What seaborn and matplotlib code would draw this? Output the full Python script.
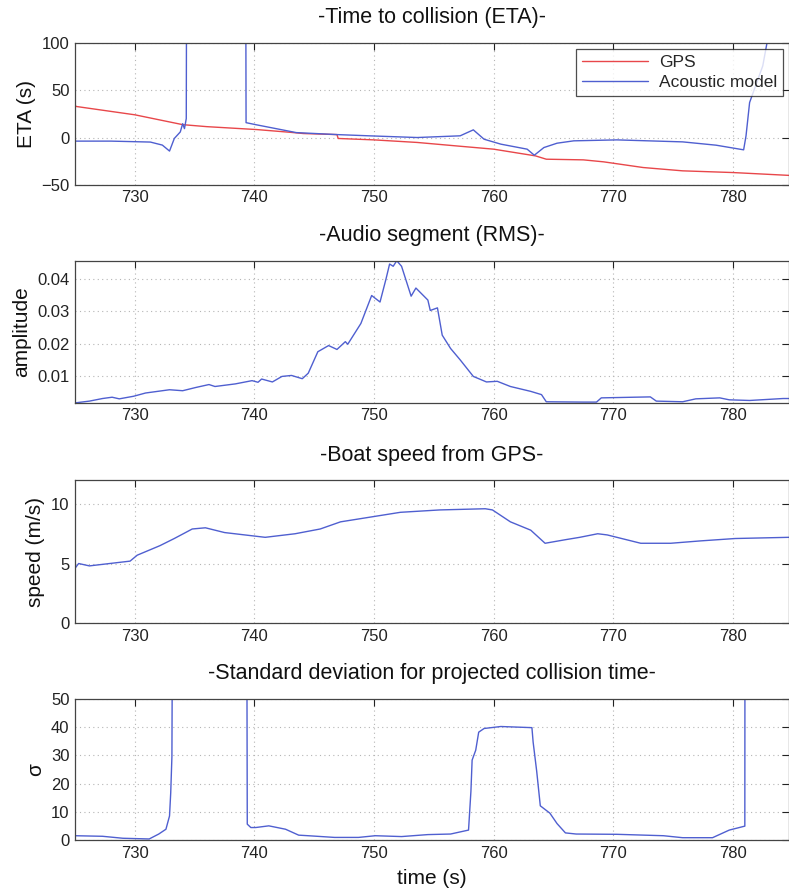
import numpy as np
import matplotlib
matplotlib.use("Agg")
import matplotlib.pyplot as plt
import seaborn as sns

# --- data (time in s) ---
eta_gps_t = [725.0, 725.1, 730.0, 734.0, 736.0, 740.2, 743.0, 744.1, 746.9, 747.0,
             750.0, 753.6, 757.0, 760.0, 763.5, 764.4, 767.5, 769.2, 772.5, 775.8,
             780.0, 784.7]
eta_gps = [34.0, 32.8, 24.0, 13.6, 11.5, 8.4, 5.5, 4.2, 3.1, -1.0,
           -2.5, -5.2, -9.0, -12.3, -19.4, -22.9, -23.6, -25.7, -31.7, -35.2,
           -37.0, -40.0]

eta_ac_t = [725.0, 728.0, 731.3, 732.3, 732.9, 733.3, 733.8, 734.0, 734.15, 734.3,
            734.35, 739.25, 739.3, 740.1, 741.8, 743.5, 746.9, 749.8, 753.6, 757.2,
            758.3, 759.2, 760.6, 762.8, 763.4, 764.2, 765.3, 766.7, 770.3, 775.8,
            778.6, 780.9, 781.1, 781.4, 782.5, 783.0, 784.7]
eta_ac = [-3.8, -3.8, -4.8, -8.0, -14.3, -1.0, 5.9, 14.6, 9.4, 20.0,
          300.0, 300.0, 15.7, 13.6, 9.4, 5.2, 3.1, 1.7, 0.0, 1.8,
          8.1, -1.8, -7.0, -12.3, -18.7, -10.6, -6.0, -3.5, -2.5, -4.6,
          -8.1, -13.0, 1.8, 37.0, 75.7, 110.0, 300.0]

rms_t = [725.0, 725.1, 726.2, 727.3, 728.1, 728.7, 729.9, 730.9, 732.9, 734.0,
         735.1, 736.2, 736.7, 738.4, 739.8, 740.3, 740.6, 741.5, 742.3, 743.1,
         744.0, 744.5, 745.3, 746.2, 746.9, 747.6, 747.8, 748.9, 749.8, 750.5,
         751.0, 751.3, 751.6, 751.9, 752.3, 753.1, 753.5, 754.5, 754.7, 755.3,
         755.7, 756.4, 757.2, 758.3, 759.4, 760.3, 761.4, 763.1, 764.0, 764.4,
         767.5, 768.6, 769.0, 771.7, 773.1, 773.6, 775.8, 776.9, 778.9, 779.7,
         781.4, 784.2, 784.7]
rms = [0.0019, 0.0019, 0.0024, 0.0032, 0.0036, 0.0031, 0.0039, 0.0049, 0.0059, 0.0056,
       0.0066, 0.0075, 0.0069, 0.0077, 0.0087, 0.0082, 0.0092, 0.0083, 0.0100, 0.0103,
       0.0093, 0.0110, 0.0176, 0.0195, 0.0183, 0.0207, 0.0199, 0.0263, 0.0349, 0.0329,
       0.0400, 0.0446, 0.0439, 0.0456, 0.0439, 0.0347, 0.0372, 0.0335, 0.0303, 0.0311,
       0.0227, 0.0186, 0.0151, 0.0100, 0.0083, 0.0085, 0.0069, 0.0054, 0.0044, 0.0022,
       0.0021, 0.0021, 0.0034, 0.0036, 0.0037, 0.0024, 0.0022, 0.0031, 0.0034, 0.0028,
       0.0026, 0.0032, 0.0032]

speed_t = [725.0, 725.3, 726.2, 727.9, 729.6, 730.2, 732.1, 733.3, 734.8, 735.9,
           737.5, 740.9, 743.4, 745.5, 747.2, 749.7, 752.2, 755.5, 759.3, 759.9,
           761.4, 763.1, 764.3, 766.0, 767.2, 768.7, 769.5, 772.3, 774.8, 777.3,
           780.2, 784.7]
speed = [4.6, 5.0, 4.8, 5.0, 5.2, 5.7, 6.5, 7.1, 7.9, 8.0,
         7.6, 7.2, 7.5, 7.9, 8.5, 8.9, 9.3, 9.5, 9.6, 9.5,
         8.5, 7.8, 6.7, 7.0, 7.2, 7.5, 7.4, 6.7, 6.7, 6.9,
         7.1, 7.2]

sigma_t = [725.0, 727.3, 729.0, 731.2, 732.0, 732.6, 732.9, 733.0, 733.1, 733.35,
           739.25, 739.4, 739.7, 740.1, 741.2, 742.6, 743.7, 744.5, 746.7, 748.7,
           750.1, 752.3, 754.5, 756.4, 757.9, 758.1, 758.2, 758.5, 758.75, 759.2,
           760.6, 763.2, 763.3, 763.6, 763.9, 764.7, 765.3, 766.0, 766.9, 770.3,
           774.2, 775.8, 778.3, 779.7, 781.0, 781.05, 784.7]
sigma = [1.5, 1.3, 0.6, 0.35, 2.1, 3.8, 8.5, 16.7, 29.5, 300.0,
         300.0, 5.6, 4.4, 4.4, 5.0, 3.8, 1.7, 1.5, 0.9, 0.9,
         1.5, 1.2, 1.9, 2.1, 3.5, 17.3, 28.3, 31.8, 38.2, 39.5,
         40.2, 39.8, 34.7, 24.3, 12.1, 9.5, 5.8, 2.5, 2.1, 2.0,
         1.5, 0.8, 0.8, 3.5, 4.9, 300.0, 300.0]

xticks = [730, 740, 750, 760, 770, 780]

# --- style ---
sns.set_theme(style="white")
plt.rcParams["font.family"] = ["Liberation Sans", "DejaVu Sans"]

blue = "#4f5fd0"
red = "#e8474a"

fig = plt.figure(figsize=(7.89, 8.93), dpi=100)
left, width = 0.0951, 0.905
boxes = [0.793, 0.549, 0.3023, 0.0594]
heights = [0.159, 0.159, 0.160, 0.158]
axes = [fig.add_axes([left, b, width, h]) for b, h in zip(boxes, heights)]


def matlab_look(ax, title, ylabel, ylim, yticks, yfmt=None):
    ax.set_xlim(725, 784.7)
    ax.set_ylim(*ylim)
    ax.set_xticks(xticks)
    ax.set_yticks(yticks)
    if yfmt:
        ax.set_yticklabels([yfmt.format(v) for v in yticks])
    ax.grid(True, linestyle=(0, (1, 3)), color="#b5b5b5", linewidth=0.8)
    ax.tick_params(direction="in", length=5, width=0.8, labelsize=12,
                   top=True, right=True, colors="#222222", pad=4)
    for s in ax.spines.values():
        s.set_color("#444444")
        s.set_linewidth(0.9)
    ax.set_title(title, fontsize=15.5, pad=14, color="#111111")
    ax.set_ylabel(ylabel, fontsize=15, color="#111111")
    ax.set_xlabel("")


ax1, ax2, ax3, ax4 = axes

sns.lineplot(x=eta_gps_t, y=eta_gps, ax=ax1, color=red, linewidth=1.0,
             estimator=None, sort=False, label="GPS")
sns.lineplot(x=eta_ac_t, y=eta_ac, ax=ax1, color=blue, linewidth=1.0,
             estimator=None, sort=False, label="Acoustic model")
matlab_look(ax1, "-Time to collision (ETA)-", "ETA (s)", (-50, 100), [-50, 0, 50, 100])
leg = ax1.legend(loc="upper right", fontsize=12.5, frameon=True, fancybox=False,
                 borderaxespad=0.35, handlelength=3.8, handletextpad=0.6,
                 borderpad=0.35, labelspacing=0.25)
leg.get_frame().set_edgecolor("#222222")
leg.get_frame().set_linewidth(0.9)

sns.lineplot(x=rms_t, y=rms, ax=ax2, color=blue, linewidth=1.0, estimator=None, sort=False)
matlab_look(ax2, "-Audio segment (RMS)-", "amplitude", (0.0019, 0.0456),
            [0.01, 0.02, 0.03, 0.04], "{:.2f}")

sns.lineplot(x=speed_t, y=speed, ax=ax3, color=blue, linewidth=1.0, estimator=None, sort=False)
matlab_look(ax3, "-Boat speed from GPS-", "speed (m/s)", (0, 12), [0, 5, 10])

sns.lineplot(x=sigma_t, y=sigma, ax=ax4, color=blue, linewidth=1.0, estimator=None, sort=False)
matlab_look(ax4, "-Standard deviation for projected collision time-", "σ", (0, 50),
            [0, 10, 20, 30, 40, 50])
ax4.set_xlabel("time (s)", fontsize=15, color="#111111", labelpad=6)

fig.savefig("out.png", dpi=100)
